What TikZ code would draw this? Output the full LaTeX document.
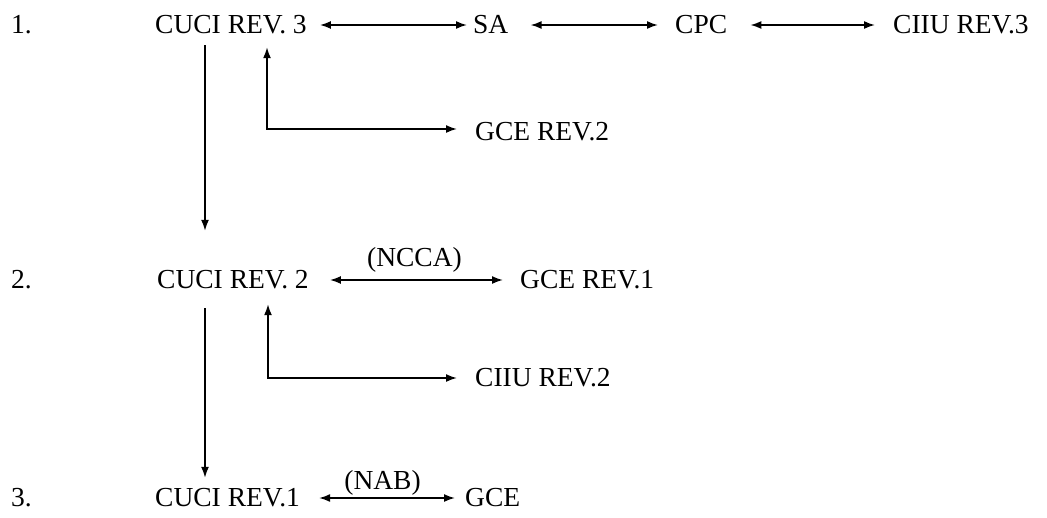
\documentclass[tikz,border=0pt]{standalone}
\usepackage{fontspec}
\setmainfont{Liberation Serif}
\usetikzlibrary{calc,arrows.meta}

\begin{document}
\begin{tikzpicture}[x=1pt,y=1pt,
  lab/.style={anchor=base west,inner sep=0pt,text height=18pt,text depth=2pt,font=\fontsize{27.5}{32}\selectfont},
  tag/.style={anchor=base,inner sep=0pt,font=\fontsize{27.5}{32}\selectfont},
  link/.style={<->,>={Latex[length=11pt,width=8pt]},line width=1.7pt},
  down/.style={->,>={Latex[length=11pt,width=8pt]},line width=1.7pt}]

\useasboundingbox (0,0) rectangle (1047,-517);

% row 1
\node[lab] (num1) at (11,-33) {1.};
\node[lab] (cuci3) at (155,-33) {CUCI REV. 3};
\node[lab] (sa) at (473,-33) {SA};
\node[lab] (cpc) at (675,-33) {CPC};
\node[lab] (ciiu3) at (893,-33) {CIIU REV.3};
\node[lab] (gce2) at (475,-140) {GCE REV.2};

% row 2
\node[lab] (num2) at (11,-288) {2.};
\node[lab] (cuci2) at (157,-288) {CUCI REV. 2};
\node[lab] (gce1) at (520,-288) {GCE REV.1};
\node[lab] (ciiu2) at (475,-386) {CIIU REV.2};

% row 3
\node[lab] (num3) at (11,-506) {3.};
\node[lab] (cuci1) at (155,-506) {CUCI REV.1};
\node[lab] (gce) at (465,-506) {GCE};

\draw[link,shorten <=13pt,shorten >=6pt] (cuci3.east) -- (sa.west);
\draw[link,shorten <=22pt,shorten >=17pt] (sa.east) -- (cpc.west);
\draw[link,shorten <=23pt,shorten >=18pt] (cpc.east) -- (ciiu3.west);
\draw[link,shorten <=12pt,shorten >=18pt] ([xshift=112pt]cuci3.south west) |- ([yshift=3pt]gce2.west);
\draw[down,shorten <=10pt,shorten >=39pt] ([xshift=50pt]cuci3.south west) -- ([xshift=50pt]cuci3.south west |- cuci2.north);

\draw[link,shorten <=21pt,shorten >=17pt] (cuci2.east) -- (gce1.west)
  node[tag,midway,yshift=14pt] {(NCCA)};
\draw[link,shorten <=14pt,shorten >=18pt] ([xshift=111pt]cuci2.south west) |- (ciiu2.west);
\draw[down,shorten <=18pt,shorten >=10pt] ([xshift=48pt]cuci2.south west) -- ([xshift=48pt]cuci2.south west |- cuci1.north);

\draw[link,shorten <=19pt,shorten >=10pt] (cuci1.east) -- (gce.west)
  node[tag,midway,yshift=9pt] {(NAB)};

\end{tikzpicture}
\end{document}
